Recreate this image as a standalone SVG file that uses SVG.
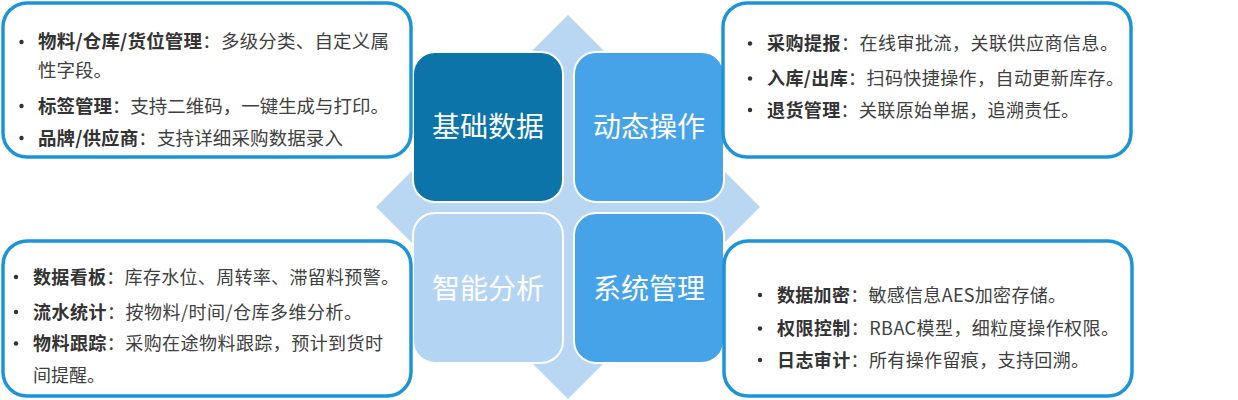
<svg xmlns="http://www.w3.org/2000/svg" width="1238" height="400" viewBox="0 0 1238 400">
<style>
.box{fill:#ffffff;stroke:#1D94D7;stroke-width:3.5}
.sq{stroke:#ffffff;stroke-width:2}
.title{font-family:"Noto Sans CJK SC","Microsoft YaHei",sans-serif;font-size:28px;fill:#ffffff;text-anchor:middle}
.t{font-family:"Noto Sans CJK SC","Microsoft YaHei",sans-serif;font-size:18px;fill:#404040}
.tl{font-size:18.5px}
.b{font-weight:bold;fill:#333333}
.dot{fill:#333333}
</style>
<rect width="1238" height="400" fill="#ffffff"/>
<g id="diamond">
<polygon points="568,15 760,207 568,399 376,207" fill="#B9D6F2"/>
</g>
<g id="node-jichu">
<rect class="sq" x="413" y="52" width="150" height="150" rx="22" fill="#0D74AA"/>
<text class="title" x="488" y="137">基础数据</text>
</g>
<g id="node-dongtai">
<rect class="sq" x="574" y="52" width="150" height="150" rx="22" fill="#47A3E8"/>
<text class="title" x="649" y="137">动态操作</text>
</g>
<g id="node-zhineng">
<rect class="sq" x="413" y="213" width="150" height="150" rx="22" fill="#B4D4F3"/>
<text class="title" x="488" y="299">智能分析</text>
</g>
<g id="node-xitong">
<rect class="sq" x="574" y="213" width="150" height="150" rx="22" fill="#47A3E8"/>
<text class="title" x="649" y="299">系统管理</text>
</g>
<g id="box-jichu">
<rect class="box" x="3" y="3" width="408" height="154" rx="24"/>
<circle class="dot" cx="21.5" cy="42" r="2.2"/>
<text class="t tl" x="38" y="48" textLength="351"><tspan class="b">物料/仓库/货位管理</tspan>：多级分类、自定义属</text>
<text class="t tl" x="38" y="76.5">性字段。</text>
<circle class="dot" cx="21.5" cy="106" r="2.2"/>
<text class="t tl" x="38" y="112.5" textLength="351"><tspan class="b">标签管理</tspan>：支持二维码，一键生成与打印。</text>
<circle class="dot" cx="21.5" cy="138" r="2.2"/>
<text class="t tl" x="38" y="144.5" textLength="305"><tspan class="b">品牌/供应商</tspan>：支持详细采购数据录入</text>
</g>
<g id="box-dongtai">
<rect class="box" x="723" y="3" width="408" height="154" rx="24"/>
<circle class="dot" cx="750" cy="43.5" r="2.2"/>
<text class="t" x="767" y="50" textLength="351"><tspan class="b">采购提报</tspan>：在线审批流，关联供应商信息。</text>
<circle class="dot" cx="750" cy="78.5" r="2.2"/>
<text class="t" x="767" y="85" textLength="357"><tspan class="b">入库/出库</tspan>：扫码快捷操作，自动更新库存。</text>
<circle class="dot" cx="750" cy="110" r="2.2"/>
<text class="t" x="767" y="116.5" textLength="312"><tspan class="b">退货管理</tspan>：关联原始单据，追溯责任。</text>
</g>
<g id="box-zhineng">
<rect class="box" x="3" y="241" width="408" height="155" rx="24"/>
<circle class="dot" cx="16" cy="277" r="2.2"/>
<text class="t" x="33" y="283.5" textLength="366"><tspan class="b">数据看板</tspan>：库存水位、周转率、滞留料预警。</text>
<circle class="dot" cx="16" cy="312" r="2.2"/>
<text class="t" x="33" y="318.5" textLength="329"><tspan class="b">流水统计</tspan>：按物料/时间/仓库多维分析。</text>
<circle class="dot" cx="16" cy="343.5" r="2.2"/>
<text class="t" x="33" y="350" textLength="350"><tspan class="b">物料跟踪</tspan>：采购在途物料跟踪，预计到货时</text>
<text class="t" x="33" y="381.5">间提醒。</text>
</g>
<g id="box-xitong">
<rect class="box" x="724" y="241" width="408" height="155" rx="24"/>
<circle class="dot" cx="760" cy="295" r="2.2"/>
<text class="t" x="777" y="301.5" textLength="289"><tspan class="b">数据加密</tspan>：敏感信息AES加密存储。</text>
<circle class="dot" cx="760" cy="328.5" r="2.2"/>
<text class="t" x="777" y="335" textLength="342"><tspan class="b">权限控制</tspan>：RBAC模型，细粒度操作权限。</text>
<circle class="dot" cx="760" cy="360" r="2.2"/>
<text class="t" x="777" y="366.5" textLength="312"><tspan class="b">日志审计</tspan>：所有操作留痕，支持回溯。</text>
</g>
<g id="connectors"></g>
</svg>
